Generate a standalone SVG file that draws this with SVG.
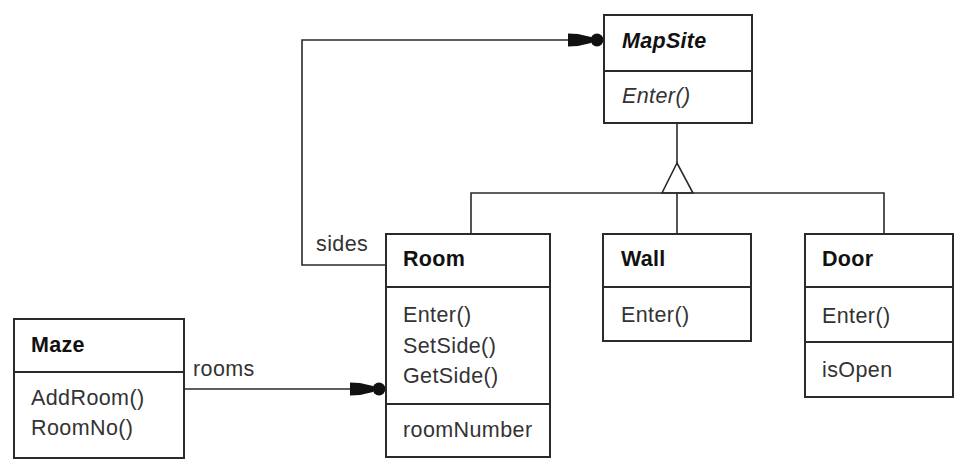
<svg xmlns="http://www.w3.org/2000/svg" width="968" height="476" viewBox="0 0 968 476">
<style>
.box{fill:#fff;stroke:#2a2a2a;stroke-width:2}
.div{stroke:#2a2a2a;stroke-width:2}
.ln{fill:none;stroke:#2a2a2a;stroke-width:1.6}
.t{font-family:"Liberation Sans",Arial,sans-serif;font-size:21.5px;letter-spacing:0.4px;fill:#333}
.b{font-family:"Liberation Sans",Arial,sans-serif;font-size:21.5px;font-weight:bold;letter-spacing:0.3px;fill:#111}
.i{font-style:italic}
</style>
<defs>
<g id="head">
<polygon points="-36,-6.5 -26,-6 -13,-3 -13,3 -26,6 -36,6.5" fill="#111"/>
<circle cx="-7" cy="0" r="6.5" fill="#111"/>
</g>
</defs>
<g id="connectors">
<polyline class="ln" points="386,265 302,265 302,40 604,40"/>
<use href="#head" x="604" y="40"/>
<line class="ln" x1="184" y1="389" x2="386" y2="389"/>
<use href="#head" x="386" y="389"/>
<line class="ln" x1="677" y1="124" x2="677" y2="163"/>
<polygon class="ln" points="677,163 662,193 693,193" style="fill:#fff"/>
<polyline class="ln" points="471,234 471,193 884,193 884,234"/>
<line class="ln" x1="677" y1="193" x2="677" y2="234"/>
<text class="t" x="316" y="251">sides</text>
<text class="t" x="193" y="376">rooms</text>
</g>
<g id="MapSite">
<rect class="box" x="604" y="15" width="148" height="108"/>
<line class="div" x1="604" y1="71" x2="752" y2="71"/>
<text class="b i" x="622" y="48">MapSite</text>
<text class="t i" x="622" y="103">Enter()</text>
</g>
<g id="Room">
<rect class="box" x="386" y="234" width="164" height="223"/>
<line class="div" x1="386" y1="287" x2="550" y2="287"/>
<line class="div" x1="386" y1="404" x2="550" y2="404"/>
<text class="b" x="403" y="266">Room</text>
<text class="t" x="403" y="322">Enter()</text>
<text class="t" x="403" y="353">SetSide()</text>
<text class="t" x="403" y="383">GetSide()</text>
<text class="t" x="403" y="437">roomNumber</text>
</g>
<g id="Wall">
<rect class="box" x="603" y="234" width="148" height="107"/>
<line class="div" x1="603" y1="287" x2="751" y2="287"/>
<text class="b" x="621" y="266">Wall</text>
<text class="t" x="621" y="322">Enter()</text>
</g>
<g id="Door">
<rect class="box" x="805" y="234" width="148" height="163"/>
<line class="div" x1="805" y1="287" x2="953" y2="287"/>
<line class="div" x1="805" y1="342" x2="953" y2="342"/>
<text class="b" x="822" y="266">Door</text>
<text class="t" x="822" y="323">Enter()</text>
<text class="t" x="822" y="377">isOpen</text>
</g>
<g id="Maze">
<rect class="box" x="14" y="319" width="170" height="139"/>
<line class="div" x1="14" y1="372" x2="184" y2="372"/>
<text class="b" x="31" y="352">Maze</text>
<text class="t" x="31" y="405">AddRoom()</text>
<text class="t" x="31" y="435">RoomNo()</text>
</g>
</svg>
